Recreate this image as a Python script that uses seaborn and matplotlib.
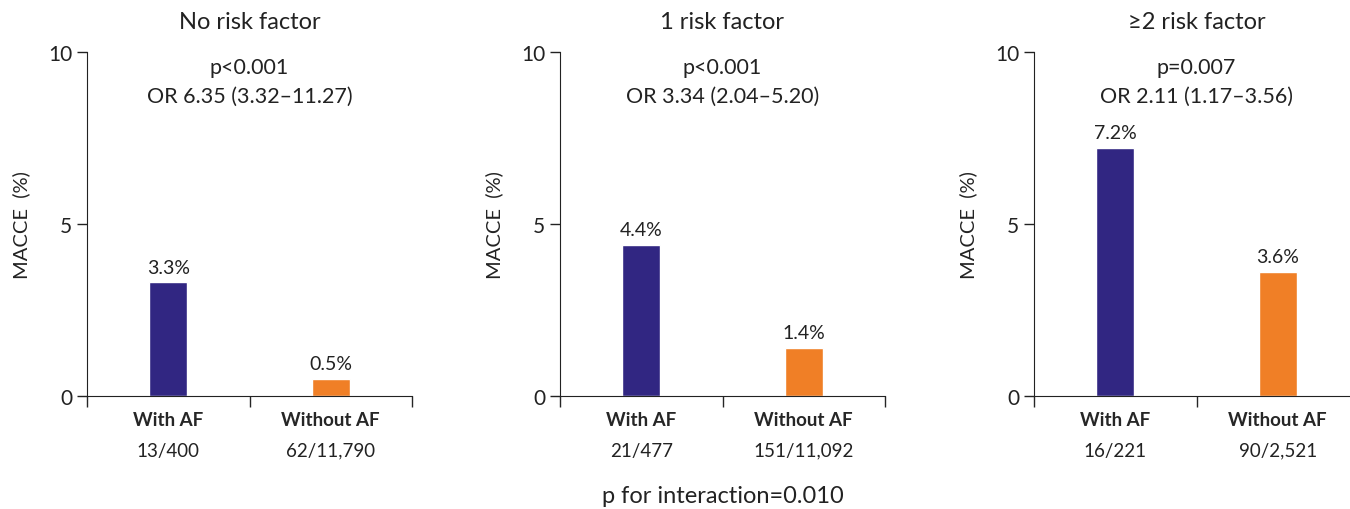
import numpy as np
import pandas as pd
import seaborn as sns
import matplotlib.pyplot as plt
from matplotlib.ticker import FixedLocator

# data
panels = ["No risk factor", "1 risk factor", "\u22652 risk factor"]
groups = ["With AF", "Without AF"]
macce_with_af = [3.3, 4.4, 7.2]
macce_without_af = [0.5, 1.4, 3.6]
counts_with_af = ["13/400", "21/477", "16/221"]
counts_without_af = ["62/11,790", "151/11,092", "90/2,521"]
p_values = ["p<0.001", "p<0.001", "p=0.007"]
odds_ratios = ["OR 6.35 (3.32\u201311.27)", "OR 3.34 (2.04\u20135.20)", "OR 2.11 (1.17\u20133.56)"]
interaction = "p for interaction=0.010"

navy = "#312682"
orange = "#F07F26"

sns.set_style("ticks")
plt.rcParams["font.family"] = ["Lato", "DejaVu Sans"]
plt.rcParams["text.color"] = "#222222"
plt.rcParams["axes.labelcolor"] = "#222222"

fig = plt.figure(figsize=(13.5, 5.1), dpi=100)
W, H = 1350, 510
lefts = [87, 560, 1034]
ax_w, y0, y10 = 325, 397, 53

for i, title in enumerate(panels):
    ax = fig.add_axes([lefts[i] / W, (H - y0) / H, ax_w / W, (y0 - y10) / H])
    df = pd.DataFrame({"group": groups,
                       "macce": [macce_with_af[i], macce_without_af[i]]})
    sns.barplot(data=df, x="group", y="macce", hue="group",
                palette=[navy, orange], width=0.235, ax=ax, legend=False,
                saturation=1)
    for c in ax.containers:
        ax.bar_label(c, fmt="%.1f%%", padding=5, fontsize=14, color="#222222")
    ax.set_xlim(-0.5, 1.5)
    ax.set_ylim(0, 10)
    ax.set_yticks([0, 5, 10])
    ax.tick_params(axis="y", labelsize=15, length=7, width=1, colors="#222222")
    # boundary ticks as major, category labels as minor
    ax.xaxis.set_major_locator(FixedLocator([-0.5, 0.5, 1.5]))
    ax.set_xticklabels(["", "", ""])
    ax.tick_params(axis="x", which="major", length=8, width=1, direction="out")
    ax.xaxis.set_minor_locator(FixedLocator([0, 1]))
    ax.set_xticklabels(groups, minor=True, fontweight="bold", fontsize=13.5)
    ax.tick_params(axis="x", which="minor", length=0, pad=11)
    ax.set_xlabel("")
    ax.set_ylabel("MACCE  (%)", fontsize=14.5, labelpad=13)
    for sp in ["top", "right"]:
        ax.spines[sp].set_visible(False)
    for sp in ["left", "bottom"]:
        ax.spines[sp].set_color("#222222")
    # counts under the group names
    for x, txt in zip([0, 1], [counts_with_af[i], counts_without_af[i]]):
        ax.annotate(txt, xy=(x, 0), xycoords=("data", "data"),
                    xytext=(0, -39), textcoords="offset points",
                    ha="center", va="center", fontsize=13.5)
    ax.text(0.5, 1.09, title, transform=ax.transAxes, ha="center",
            va="center", fontsize=17)
    ax.text(0.5, 0.956, p_values[i], transform=ax.transAxes, ha="center",
            va="center", fontsize=15.5)
    ax.text(0.5, 0.872, odds_ratios[i], transform=ax.transAxes, ha="center",
            va="center", fontsize=15.5)

fig.text(723 / W, 1 - 497 / H, interaction, ha="center", va="center", fontsize=17)

fig.savefig("out.png", dpi=100)
